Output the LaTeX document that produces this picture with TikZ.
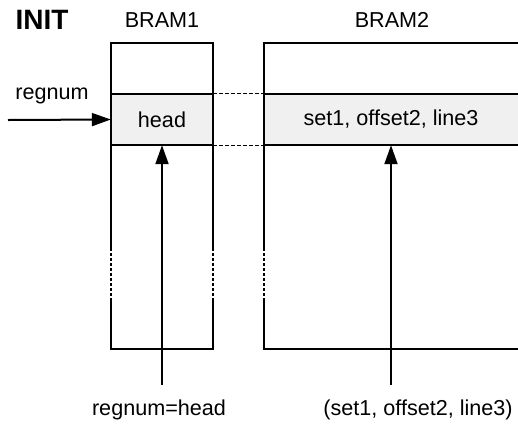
\documentclass[tikz,border=0pt]{standalone}
\usepackage{fontspec}
\setmainfont{Liberation Sans}
\usetikzlibrary{arrows.meta}
\tikzset{
  memline/.style={line width=1.5pt},
  gapline/.style={line width=1.5pt, dash pattern=on 3pt off 2pt},
  linkline/.style={line width=1.1pt, dash pattern=on 4pt off 2pt},
  cell/.style={fill=gray!12, minimum height=51pt, inner sep=0pt, font=\fontsize{21.6}{25}\selectfont},
  txt/.style={inner sep=0pt, font=\fontsize{21.6}{25}\selectfont},
  ptr/.style={line width=2pt, -{Triangle[length=19pt,width=13pt]}}
}
\begin{document}
\begin{tikzpicture}[x=1pt, y=-1pt]
    \useasboundingbox (0,0) rectangle (518,424);
    % Titles
    \node[txt, font=\fontsize{28}{32}\selectfont\bfseries] (init) at (42,20) {INIT};
    \node[txt] (bram1) at (162,20) {BRAM1};
    \node[txt] (bram2) at (392,20) {BRAM2};
    % Rows
    \node[cell, minimum width=102pt] (head) at (162,119.5) {head};
    \node[cell, minimum width=254pt] (entry) at (391,119.5) {set1, offset2, line3};
    % BRAM1
    \draw[memline] (111,248) -- (111,43) -- (213,43) -- (213,248);
    \draw[memline] (111,298) -- (111,349) -- (213,349) -- (213,298);
    \draw[gapline] (111,248) -- (111,298);
    \draw[gapline] (213,248) -- (213,298);
    \draw[memline] (head.north west) -- (head.north east);
    \draw[memline] (head.south west) -- (head.south east);
    % BRAM2
    \draw[memline] (518,43) -- (264,43) -- (264,248);
    \draw[memline] (264,298) -- (264,349) -- (518,349);
    \draw[gapline] (264,248) -- (264,298);
    \draw[memline] (entry.north west) -- (entry.north east);
    \draw[memline] (entry.south west) -- (entry.south east);
    % Links
    \draw[linkline] (head.north east) -- (entry.north west);
    \draw[linkline] (head.south east) -- (entry.south west);
    % Inputs
    \coordinate (regin) at (8,120);
    \coordinate (up1) at (162,385);
    \coordinate (up2) at (391,385);
    \node[txt] (regnum) at (52,96) {regnum};
    \draw[ptr] (regin) -- (head.west);
    \draw[ptr] (up1) -- (head.south);
    \draw[ptr] (up2) -- (entry.south -| up2);
    % Labels
    \node[txt] (lab1) at (159,410) {regnum=head};
    \node[txt] (lab2) at (418,410) {(set1, offset2, line3)};
\end{tikzpicture}
\end{document}
